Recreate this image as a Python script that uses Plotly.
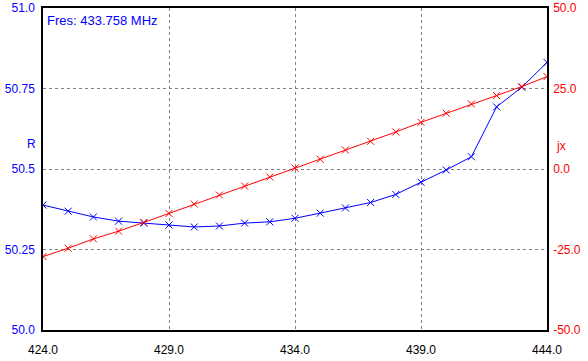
import plotly.graph_objects as go

freq = list(range(424, 445))
r_vals = [50.388, 50.369, 50.351, 50.338, 50.332, 50.326, 50.320, 50.323, 50.332, 50.336,
          50.347, 50.363, 50.379, 50.396, 50.421, 50.459, 50.497, 50.538, 50.693, 50.754, 50.831]
jx_vals = [-27.2, -24.6, -21.7, -19.3, -16.6, -13.8, -10.9, -8.1, -5.3, -2.5,
           0.3, 3.0, 5.9, 8.6, 11.5, 14.5, 17.3, 20.2, 22.8, 25.6, 28.7]

x_ticks = [424, 429, 434, 439, 444]
x_ticktext = ["424.0", "429.0", "434.0", "439.0", "444.0"]
r_ticks = [50.0, 50.25, 50.5, 50.75, 51.0]
r_ticktext = ["50.0", "50.25", "50.5", "50.75", "51.0"]
jx_ticks = [-50, -25, 0, 25, 50]
jx_ticktext = ["-50.0", "-25.0", "0.0", "25.0", "50.0"]

BLUE = "#0000FF"
RED = "#FF0000"
FONT = "Liberation Sans, Arial, sans-serif"

fig = go.Figure()
fig.add_trace(go.Scatter(
    x=freq, y=r_vals, mode="lines+markers", name="R",
    line=dict(color=BLUE, width=1),
    marker=dict(symbol="x-thin-open", size=7, color=BLUE, line=dict(color=BLUE, width=1)),
    yaxis="y"))
fig.add_trace(go.Scatter(
    x=freq, y=jx_vals, mode="lines+markers", name="jx",
    line=dict(color=RED, width=1),
    marker=dict(symbol="x-thin-open", size=7, color=RED, line=dict(color=RED, width=1)),
    yaxis="y2"))

fig.update_layout(
    width=588, height=361,
    margin=dict(l=43, r=41, t=8, b=31, autoexpand=False),
    paper_bgcolor="white", plot_bgcolor="white",
    showlegend=False,
    font=dict(family=FONT, size=12),
    xaxis=dict(range=[424, 444], tickvals=x_ticks, ticktext=x_ticktext, automargin=False,
               showgrid=True, gridcolor="#808080", griddash="3px,3px", gridwidth=1,
               showline=True, linecolor="black", linewidth=1.5, mirror=True,
               zeroline=False, ticks="", ticklabelstandoff=8,
               tickfont=dict(color="black", size=12, family=FONT)),
    yaxis=dict(range=[50.0, 51.0], tickvals=r_ticks, ticktext=r_ticktext, automargin=False,
               showgrid=True, gridcolor="#808080", griddash="3px,3px", gridwidth=1,
               showline=True, linecolor="black", linewidth=1.5,
               zeroline=False, ticks="", ticklabelstandoff=4,
               tickfont=dict(color=BLUE, size=12, family=FONT)),
    yaxis2=dict(range=[-50, 50], tickvals=jx_ticks, ticktext=jx_ticktext, automargin=False,
                overlaying="y", side="right", showgrid=False,
                showline=True, linecolor="black", linewidth=1.5,
                zeroline=False, ticks="", ticklabelstandoff=2,
                tickfont=dict(color=RED, size=12, family=FONT)),
    annotations=[
        dict(text="Fres: 433.758 MHz", xref="paper", yref="paper", x=0, y=1,
             xanchor="left", yanchor="top", xshift=2, yshift=-3, showarrow=False,
             font=dict(color=BLUE, size=13, family=FONT)),
        dict(text="R", xref="paper", yref="paper", x=0, y=0.578, xanchor="center",
             yanchor="middle", xshift=-12, showarrow=False,
             font=dict(color=BLUE, size=12, family=FONT)),
        dict(text="jx", xref="paper", yref="paper", x=1, y=0.571, xanchor="center",
             yanchor="middle", xshift=14, showarrow=False,
             font=dict(color=RED, size=12, family=FONT)),
    ],
)

fig.write_html("out.html", config={"displayModeBar": False},
               post_script="document.body.style.margin='0';document.body.style.padding='0';")
